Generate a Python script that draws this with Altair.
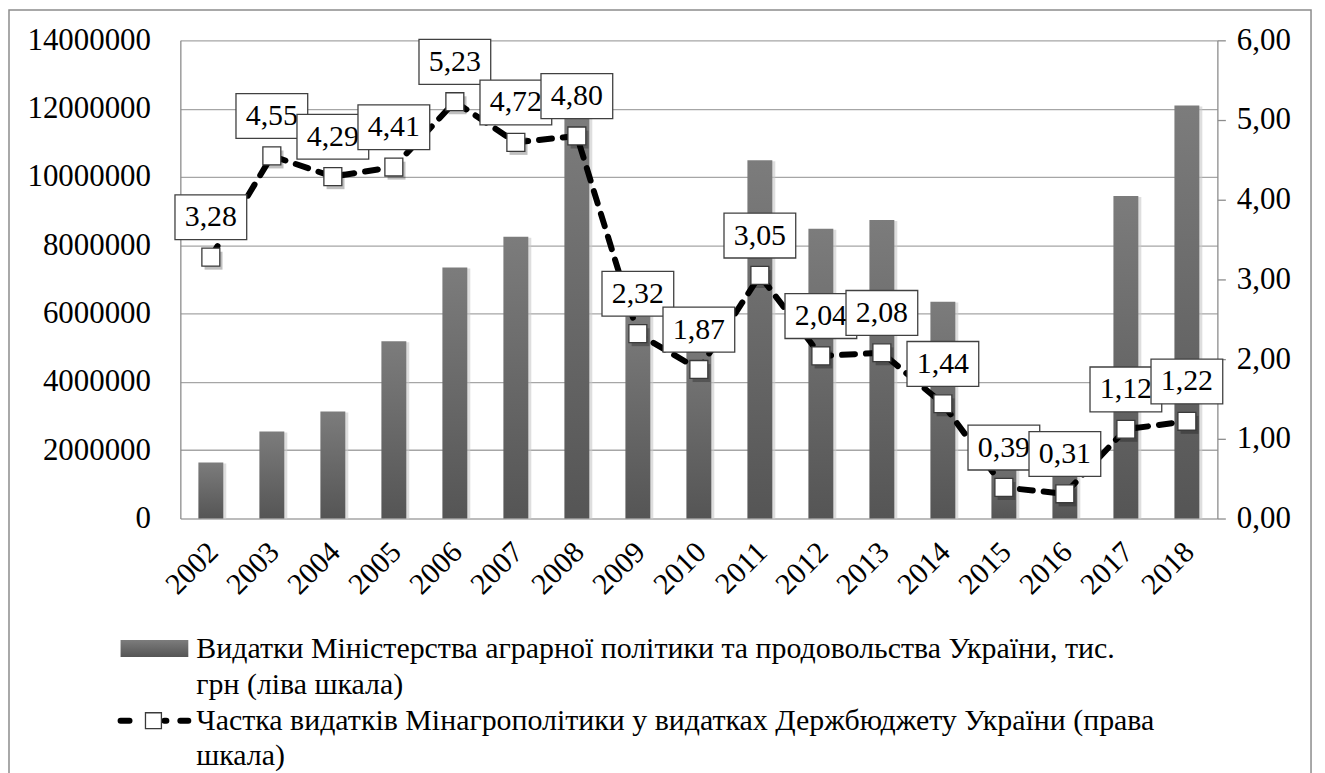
import altair as alt
import pandas as pd

years = ["2002", "2003", "2004", "2005", "2006", "2007", "2008", "2009", "2010",
         "2011", "2012", "2013", "2014", "2015", "2016", "2017", "2018"]
spending = [1640000, 2550000, 3130000, 5190000, 7350000, 8250000, 11800000, 6050000,
            5600000, 10490000, 8480000, 8740000, 6350000, 2200000, 2100000, 9440000, 12090000]
share = [3.28, 4.55, 4.29, 4.41, 5.23, 4.72, 4.80, 2.32, 1.87, 3.05, 2.04, 2.08,
         1.44, 0.39, 0.31, 1.12, 1.22]
left_ticks = [0, 2000000, 4000000, 6000000, 8000000, 10000000, 12000000, 14000000]
right_ticks = [0, 1, 2, 3, 4, 5, 6]
legend_bar_lines = ["Видатки Міністерства аграрної політики та продовольства України, тис.",
                    "грн (ліва шкала)"]
legend_line_lines = ["Частка видатків Мінагрополітики у видатках Держбюджету України (права",
                     "шкала)"]

df = pd.DataFrame({"year": years, "spending": spending, "share": share})
df["label"] = df["share"].map(lambda v: f"{v:.2f}".replace(".", ","))

FONT = "Liberation Serif"
FS = 30
AFS = 31
W, H = 1041, 480
GRID = "#a6a6a6"
DOM = "#8c8c8c"

x_enc = alt.X("year:N", sort=years,
              scale=alt.Scale(paddingInner=0, paddingOuter=0),
              axis=alt.Axis(title=None, labelAngle=-45, labelFont=FONT, labelFontSize=FS,
                            labelColor="black", ticks=False, domain=False, labelPadding=18,
                            labelOffset=-8))

y_left = alt.Y("spending:Q", scale=alt.Scale(domain=[0, 14000000], nice=False),
               axis=alt.Axis(title=None, values=left_ticks, format="d", labelFont=FONT,
                             labelFontSize=AFS, labelColor="black", grid=True, gridColor=GRID,
                             gridWidth=1.3, domain=True, domainColor=DOM, domainWidth=1.3,
                             ticks=False, labelPadding=30))

y_right = alt.Y("share:Q", scale=alt.Scale(domain=[0, 6], nice=False),
                axis=alt.Axis(orient="right", title=None, values=right_ticks,
                              labelExpr="replace(format(datum.value, '.2f'), '.', ',')",
                              labelFont=FONT, labelFontSize=AFS, labelColor="black", grid=False,
                              domain=True, domainColor=DOM, domainWidth=1.3, ticks=True,
                              tickColor=DOM, tickSize=8, tickWidth=1.3, labelPadding=11))

base = alt.Chart(df)

bar_grad = alt.Gradient(gradient="linear",
                        stops=[alt.GradientStop(color="#7c7c7c", offset=0),
                               alt.GradientStop(color="#555555", offset=1)],
                        x1=0, x2=0, y1=0, y2=1)

bar_shadow = base.mark_bar(size=25, xOffset=3, yOffset=1, color="#c8c8c8", opacity=0.6).encode(
    x=x_enc, y=y_left)
bars = base.mark_bar(size=25, color=bar_grad).encode(x=x_enc, y=y_left)
left = alt.layer(bar_shadow, bars)

line = base.mark_line(color="black", strokeWidth=6, strokeDash=[13, 11],
                      strokeCap="round").encode(x=x_enc, y=y_right)
marker_shadow = base.mark_point(shape="M-0.7,-0.6H1.3V1.4H-0.7Z", size=324, filled=True,
                                color="#000000", opacity=0.25).encode(x=x_enc, y=y_right)
markers = base.mark_point(shape="square", size=324, filled=True, fill="white",
                          stroke="#3a3a3a", strokeWidth=1.3, opacity=1).encode(
    x=x_enc, y=y_right)

label_layers = []
for yr in years:
    sub = base.transform_filter(alt.datum.year == yr)
    box = sub.mark_point(shape="M-1,-1.736H1V-0.486H-1Z", size=5184, filled=True, fill="white",
                         stroke="#404040", strokeWidth=1.3, opacity=1).encode(
        x=x_enc, y=y_right)
    txt = sub.mark_text(dy=-40, font=FONT, fontSize=FS, color="black", baseline="middle").encode(
        x=x_enc, y=y_right, text="label:N")
    label_layers += [box, txt]

right = alt.layer(line, marker_shadow, markers, *label_layers)

one = alt.Chart(pd.DataFrame({"a": [0]}))
border = one.mark_rect(fillOpacity=0, stroke="#8c8c8c", strokeWidth=1.5).encode(
    x=alt.value(-172), x2=alt.value(1135), y=alt.value(-30.5), y2=alt.value(800))

swatch_grad = alt.Gradient(gradient="linear",
                           stops=[alt.GradientStop(color="#7c7c7c", offset=0),
                                  alt.GradientStop(color="#555555", offset=1)],
                           x1=0, x2=0, y1=0, y2=1)
swatch = one.mark_rect(color=swatch_grad).encode(
    x=alt.value(-60), x2=alt.value(8), y=alt.value(602), y2=alt.value(619))
leg_texts = []
for txt_line, ypos in zip(legend_bar_lines + legend_line_lines, [611, 647, 683, 718]):
    leg_texts.append(one.mark_text(align="left", baseline="middle", font=FONT, fontSize=30,
                                   color="black").encode(
        x=alt.value(16), y=alt.value(ypos), text=alt.value(txt_line)))
seg1 = one.mark_rule(color="black", strokeWidth=6, strokeCap="round").encode(
    x=alt.value(-60), x2=alt.value(-51), y=alt.value(683))
seg2 = one.mark_rule(color="black", strokeWidth=6, strokeCap="round").encode(
    x=alt.value(-16), x2=alt.value(-14), y=alt.value(683))
seg3 = one.mark_rule(color="black", strokeWidth=6, strokeCap="round").encode(
    x=alt.value(0), x2=alt.value(8), y=alt.value(683))
leg_square = one.mark_point(shape="square", size=256, filled=True, fill="white",
                            stroke="#3a3a3a", strokeWidth=1.3, opacity=1).encode(
    x=alt.value(-27), y=alt.value(683))

decor = alt.layer(border, swatch, seg1, seg2, seg3, leg_square, *leg_texts)

chart = alt.layer(
    left, right, decor
).resolve_scale(y="independent").properties(
    width=W, height=H,
    padding={"left": 173, "top": 31, "right": 100, "bottom": 254},
    autosize=alt.AutoSizeParams(type="none"),
).configure_view(stroke=None)

chart.save("out.html", embed_options={"renderer": "svg", "actions": False})
